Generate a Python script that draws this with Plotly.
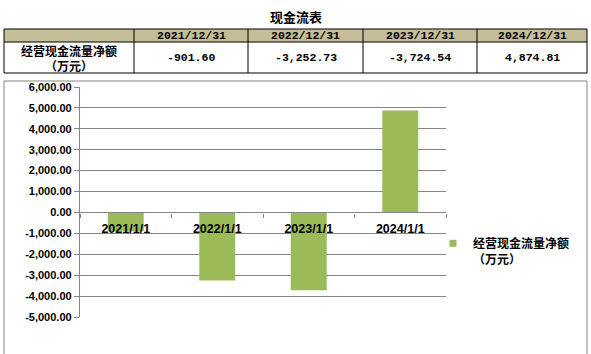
import plotly.graph_objects as go

W, H = 591, 354

categories = ["2021/1/1", "2022/1/1", "2023/1/1", "2024/1/1"]
table_dates = ["2021/12/31", "2022/12/31", "2023/12/31", "2024/12/31"]
values = [-901.60, -3252.73, -3724.54, 4874.81]
series_name = "经营现金流量净额<br>（万元）"
row_label_lines = ["经营现金流量净额", "（万元）"]
title_text = "现金流表"
y_ticks = [6000, 5000, 4000, 3000, 2000, 1000, 0, -1000, -2000, -3000, -4000, -5000]

BAR_COLOR = "#9BBB59"


def px(x):
    return x / W


def py(y):
    return 1 - y / H


y_lo, y_hi = -5000, 6000
plot_top, plot_bot = 87, 317
dom_y = [py(plot_bot), py(plot_top)]
zero_pos = dom_y[0] + (0 - y_lo) / (y_hi - y_lo) * (dom_y[1] - dom_y[0])

fig = go.Figure()
fig.add_trace(go.Bar(
    x=categories, y=values, name=series_name,
    marker=dict(color=BAR_COLOR, line=dict(width=0)),
    showlegend=False,
))
# legend entry with a small square swatch
fig.add_trace(go.Scatter(
    x=[None], y=[None], mode="markers", name=series_name,
    marker=dict(symbol="square", size=7, color=BAR_COLOR),
    showlegend=True,
))

axis_font = dict(family="Liberation Sans", size=11, color="#000000", weight="bold")
cat_font = dict(family="Liberation Sans", size=12.5, color="#000000", weight="bold")

fig.update_layout(
    width=W, height=H, autosize=False,
    margin=dict(l=0, r=0, t=0, b=0, pad=0, autoexpand=False),
    paper_bgcolor="white", plot_bgcolor="white",
    bargap=0.607,
    xaxis=dict(
        domain=[px(80), px(446)],
        anchor="free", position=zero_pos,
        type="category",
        showline=True, linecolor="#868686", linewidth=1.3,
        ticks="outside", tickson="boundaries", ticklen=4, tickcolor="#868686",
        ticklabelstandoff=4,
        showgrid=False, zeroline=False,
        tickfont=cat_font,
    ),
    yaxis=dict(
        domain=dom_y,
        range=[y_lo, y_hi],
        tickvals=y_ticks,
        ticktext=[f"{v:,.2f}" for v in y_ticks],
        showline=True, linecolor="#868686", linewidth=1.3,
        ticks="outside", ticklen=5, tickcolor="#868686",
        showgrid=True, gridcolor="#868686", gridwidth=1.3,
        zeroline=False,
        tickfont=axis_font,
    ),
    legend=dict(
        x=px(433), y=py(229), xanchor="left", yanchor="top",
        valign="top",
        font=dict(family="Noto Sans CJK SC", size=12, color="#000000", weight="bold"),
        bgcolor="rgba(0,0,0,0)", itemwidth=30,
    ),
)

shapes = []
annotations = []

# chart outer border
shapes.append(dict(type="rect", xref="paper", yref="paper",
                   x0=px(4), x1=px(587), y0=py(362), y1=py(81),
                   line=dict(color="#868686", width=1), fillcolor="rgba(0,0,0,0)"))

# table
col_edges = [4, 134, 248, 363, 477, 587]
t_top, t_mid, t_bot = 29, 42, 73
shapes.append(dict(type="rect", xref="paper", yref="paper",
                   x0=px(4), x1=px(587), y0=py(t_mid), y1=py(t_top),
                   line=dict(width=0), fillcolor="#C4BD97", layer="below"))
for yy in [t_top, t_mid, t_bot]:
    shapes.append(dict(type="line", xref="paper", yref="paper",
                       x0=px(col_edges[0]), x1=px(col_edges[-1]), y0=py(yy), y1=py(yy),
                       line=dict(color="#000000", width=1)))
for xx in col_edges:
    shapes.append(dict(type="line", xref="paper", yref="paper",
                       x0=px(xx), x1=px(xx), y0=py(t_top), y1=py(t_bot),
                       line=dict(color="#000000", width=1)))

cjk_font = dict(family="Noto Sans CJK SC", size=13, color="#000", weight="bold")
row_font = dict(family="Noto Sans CJK SC", size=12, color="#000", weight="bold")
num_font = dict(family="Liberation Mono", size=11.5, color="#000", weight="bold")


def add_text(text, x, y, font):
    annotations.append(dict(text=text, xref="paper", yref="paper",
                            x=px(x), y=py(y), xanchor="center", yanchor="middle",
                            showarrow=False, font=font))


add_text(title_text, 296, 17, cjk_font)
for i, d in enumerate(table_dates):
    cx = (col_edges[i + 1] + col_edges[i + 2]) / 2
    add_text(d, cx, (t_top + t_mid) / 2, num_font)
    add_text(f"{values[i]:,.2f}", cx, (t_mid + t_bot) / 2, num_font)
first_cx = (col_edges[0] + col_edges[1]) / 2
add_text(row_label_lines[0], first_cx, 50, row_font)
add_text(row_label_lines[1], first_cx, 66, row_font)

fig.update_layout(shapes=shapes, annotations=annotations)
fig.write_html("out.html")
